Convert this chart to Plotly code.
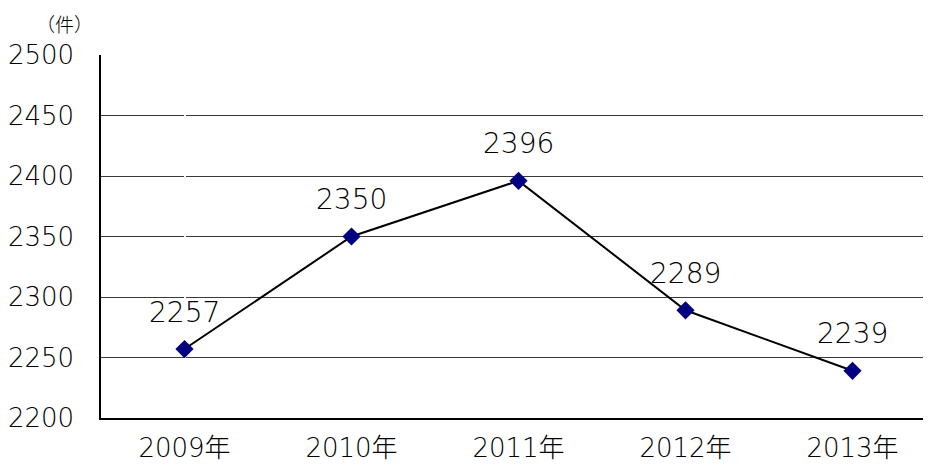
import plotly.graph_objects as go

years = ["2009年", "2010年", "2011年", "2012年", "2013年"]
counts = [2257, 2350, 2396, 2289, 2239]
y_ticks = [2200, 2250, 2300, 2350, 2400, 2450, 2500]

FONT = "DejaVu Sans, Noto Sans CJK JP, sans-serif"

fig = go.Figure()
fig.add_trace(go.Scatter(
    x=list(range(len(years))), y=counts, mode="lines+markers",
    line=dict(color="black", width=2),
    marker=dict(symbol="diamond", size=14, color="#000080"),
    hoverinfo="skip", showlegend=False,
))
for i, v in enumerate(counts):
    fig.add_annotation(x=i, y=v, text=str(v), showarrow=False, yshift=37,
                       font=dict(family=FONT, size=28, color="black", weight=200))

fig.add_annotation(xref="paper", yref="paper", x=-0.0434, y=1.088,
                   text="（件）", showarrow=False, xanchor="center", yanchor="middle",
                   font=dict(family="Noto Sans CJK JP, sans-serif", size=19, color="black",
                             weight=300))

fig.update_xaxes(
    range=[-0.5, 4.47], tickvals=list(range(len(years))), ticktext=years,
    showgrid=False, showline=True, linecolor="black", linewidth=1.5,
    ticks="", ticklabelstandoff=6, automargin=False,
    tickfont=dict(family=FONT, size=26, color="black", weight=200),
    fixedrange=True,
)
fig.update_yaxes(
    range=[2200, 2500], tickvals=y_ticks,
    showgrid=True, gridcolor="#3a3a3a", gridwidth=1.2,
    showline=True, linecolor="black", linewidth=1.5,
    ticks="", ticklabelstandoff=20, automargin=False,
    tickfont=dict(family=FONT, size=26, color="black", weight=200),
    zeroline=False, fixedrange=True,
)
fig.update_layout(
    width=923, height=458,
    margin=dict(l=93, r=0, t=47, b=48),
    plot_bgcolor="white", paper_bgcolor="white",
)
fig.write_html("out.html")
